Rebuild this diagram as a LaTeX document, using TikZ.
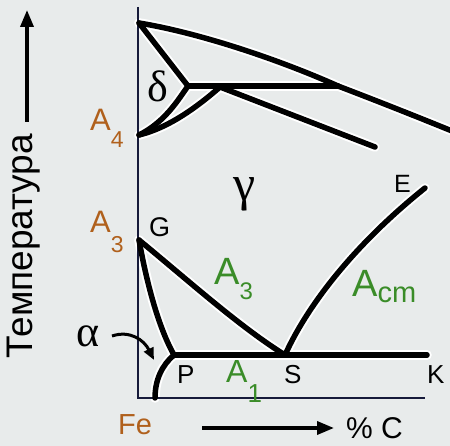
\documentclass[tikz,border=0pt]{standalone}
\usepackage{fontspec}
\setmainfont{Liberation Sans}
\newfontfamily\grk{Liberation Serif}
\usetikzlibrary{arrows.meta}
\definecolor{bgc}{HTML}{E8EBEB}
\definecolor{orng}{HTML}{B0601C}
\definecolor{grn}{HTML}{3A8C28}
\definecolor{axc}{HTML}{161A3A}
\newcommand\fs[1]{\fontsize{#1}{#1}\selectfont}
\newcommand\phasecurves[1]{%
  \draw[#1] (top0) .. controls (200,33) and (280,60) .. (tri) .. controls (385,104) and (420,118) .. (topE);
  \draw[#1] (top0) -- (junc);
  \draw[#1] (junc) .. controls (178,100) and (165,122) .. (a4);
  \draw[#1] (a4) .. controls (168,128) and (196,108) .. (peri);
  \draw[#1] (peri) -- (end2);
  \draw[#1] (junc) -- (tri);
  \draw[#1] (g) .. controls (190,282) and (240,327) .. (s);
  \draw[#1] (g) .. controls (148,290) and (160,330) .. (p);
  \draw[#1] (s) .. controls (310,300) and (360,240) .. (e);
  \draw[#1] (p) -- (k);
  \draw[#1] (p) .. controls (162,365) and (155,380) .. (pb);
}
\begin{document}
\begin{tikzpicture}[x=1pt,y=-1pt,
  curve/.style={line width=5.5pt,line cap=round,line join=round},
  halo/.style={line width=9.5pt,draw=white,line cap=round,line join=round},
  axis/.style={line width=2.6pt,draw=axc},
  lbl/.style={inner sep=0pt,anchor=base west},
  grklbl/.style={inner sep=0pt,font=\grk},
  bigarrow/.style={line width=3.5pt,-{Triangle[length=17pt,width=13pt]}}]
\fill[bgc] (0,0) rectangle (450,446);
\useasboundingbox (0,0) rectangle (450,446);
% key points
\coordinate (ytop) at (138,7);
\coordinate (o) at (138,398);
\coordinate (xend) at (425,398);
\coordinate (top0) at (139,23);
\coordinate (junc) at (188,86);
\coordinate (tri) at (338,86);
\coordinate (topE) at (452,131);
\coordinate (a4) at (139,135);
\coordinate (peri) at (220,87);
\coordinate (end2) at (375,147);
\coordinate (g) at (139,240);
\coordinate (s) at (285,355);
\coordinate (e) at (425,188);
\coordinate (p) at (174,355);
\coordinate (k) at (427,355);
\coordinate (pb) at (155,398);
% halo then curves
\phasecurves{halo}
\draw[axis] (ytop) -- (o) -- (xend);
\phasecurves{curve}
% labels
\node[lbl,text=orng] (la4) at (90,131) {\fs{31}A\raisebox{-17pt}{\fs{23}4}};
\node[lbl,text=orng] (la3) at (90,233) {\fs{31}A\raisebox{-20pt}{\fs{23}3}};
\node[lbl] (lg) at (149,237) {\fs{27}G};
\node[lbl] (le) at (394,193) {\fs{25}E};
\node[lbl,text=grn] (lA3) at (214,285) {\fs{38}A\raisebox{-15pt}{\fs{24}3}};
\node[lbl,text=grn] (lAcm) at (352,297) {\fs{38}A\raisebox{-6pt}{\fs{29}cm}};
\node[lbl,text=grn] (lA1) at (226,383) {\fs{32}A\raisebox{-20pt}{\fs{26}1}};
\node[lbl] (lp) at (177,384) {\fs{26}P};
\node[lbl] (ls) at (284,384) {\fs{26}S};
\node[lbl] (lk) at (427,384) {\fs{26}K};
\node[lbl,text=orng] (lfe) at (118,434) {\fs{29}Fe};
\node[lbl] (lc) at (346,438) {\fs{30}\% C};
\node[grklbl] (ld) at (158,86) {\fs{44}δ};
\node[grklbl] (lgam) at (245,194) {\fs{50}γ};
\node[grklbl] (lal) at (88,336) {\fs{44}α};
% alpha arrow
\coordinate (alstart) at (112,336);
\coordinate (altip) at (154,360);
\draw[line width=3pt,-{Triangle[length=12pt,width=10pt]}] (alstart) .. controls (130,330) and (144,340) .. (altip);
% axis captions
\node[inner sep=0pt,rotate=90] (temp) at (24,246) {\fs{37}Температура};
\coordinate (tarrA) at (27,122);
\coordinate (tarrB) at (27,10);
\draw[bigarrow] (tarrA) -- (tarrB);
\coordinate (carrA) at (202,428);
\coordinate (carrB) at (334,428);
\draw[bigarrow] (carrA) -- (carrB);
\end{tikzpicture}
\end{document}
